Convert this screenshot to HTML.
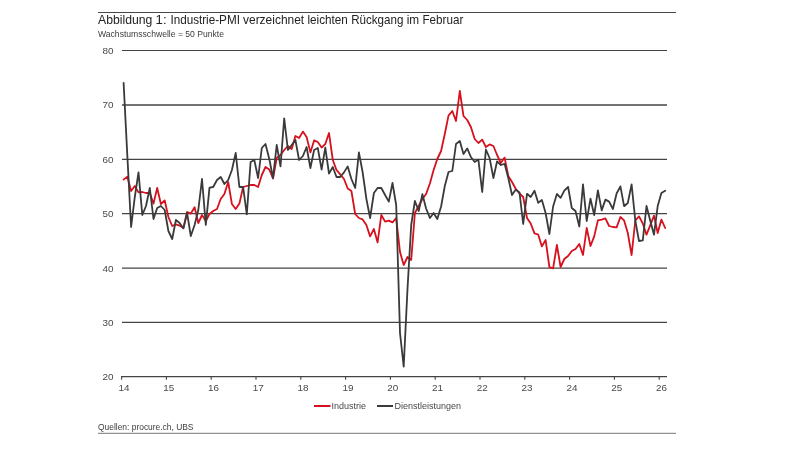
<!DOCTYPE html>
<html><head><meta charset="utf-8"><style>
html,body{margin:0;padding:0;background:#fff;}
body{width:800px;height:450px;overflow:hidden;position:relative;font-family:"Liberation Sans",sans-serif;}
svg{position:absolute;left:0;top:0;}
text{font-family:"Liberation Sans",sans-serif;filter:grayscale(1);}
</style></head><body>
<svg width="800" height="450" viewBox="0 0 800 450">
<line x1="98" x2="676" y1="12.5" y2="12.5" stroke="#484848" stroke-width="1"/>
<line x1="98" x2="676" y1="433.3" y2="433.3" stroke="#777" stroke-width="1"/>
<g font-size="12.2" fill="#222"><text x="98.0" y="24" textLength="54.3" lengthAdjust="spacingAndGlyphs">Abbildung</text><text x="155.6" y="24" textLength="11.0" lengthAdjust="spacingAndGlyphs">1:</text><text x="170.4" y="24" textLength="69.5" lengthAdjust="spacingAndGlyphs">Industrie-PMI</text><text x="243.0" y="24" textLength="61.2" lengthAdjust="spacingAndGlyphs">verzeichnet</text><text x="307.5" y="24" textLength="40.4" lengthAdjust="spacingAndGlyphs">leichten</text><text x="351.2" y="24" textLength="52.2" lengthAdjust="spacingAndGlyphs">Rückgang</text><text x="406.7" y="24" textLength="12.5" lengthAdjust="spacingAndGlyphs">im</text><text x="422.5" y="24" textLength="40.8" lengthAdjust="spacingAndGlyphs">Februar</text></g>
<text x="98" y="36.5" font-size="8.6" fill="#3c3c3c" textLength="126" lengthAdjust="spacingAndGlyphs">Wachstumsschwelle = 50 Punkte</text>
<g stroke="#444" stroke-width="1"><line x1="122" x2="667" y1="50.50" y2="50.50" stroke-width="1"/><line x1="122" x2="667" y1="105.00" y2="105.00" stroke-width="1.5"/><line x1="122" x2="667" y1="159.40" y2="159.40" stroke-width="1.15"/><line x1="122" x2="667" y1="213.60" y2="213.60" stroke-width="1.1"/><line x1="122" x2="667" y1="268.15" y2="268.15" stroke-width="1.4"/><line x1="122" x2="667" y1="322.40" y2="322.40" stroke-width="1.1"/></g>
<g stroke="#444" stroke-width="1.1"><line x1="121" x2="667" y1="376.6" y2="376.6"/><line x1="121.6" x2="121.6" y1="376.6" y2="379.7"/><line x1="166.4" x2="166.4" y1="376.6" y2="379.7"/><line x1="211.2" x2="211.2" y1="376.6" y2="379.7"/><line x1="256.0" x2="256.0" y1="376.6" y2="379.7"/><line x1="300.8" x2="300.8" y1="376.6" y2="379.7"/><line x1="345.6" x2="345.6" y1="376.6" y2="379.7"/><line x1="390.4" x2="390.4" y1="376.6" y2="379.7"/><line x1="435.2" x2="435.2" y1="376.6" y2="379.7"/><line x1="480.0" x2="480.0" y1="376.6" y2="379.7"/><line x1="524.8" x2="524.8" y1="376.6" y2="379.7"/><line x1="569.6" x2="569.6" y1="376.6" y2="379.7"/><line x1="614.4" x2="614.4" y1="376.6" y2="379.7"/><line x1="659.2" x2="659.2" y1="376.6" y2="379.7"/></g>
<g font-size="9.9" fill="#484848"><text x="113.4" y="53.9" text-anchor="end">80</text><text x="113.4" y="108.4" text-anchor="end">70</text><text x="113.4" y="162.8" text-anchor="end">60</text><text x="113.4" y="217.0" text-anchor="end">50</text><text x="113.4" y="271.5" text-anchor="end">40</text><text x="113.4" y="325.8" text-anchor="end">30</text><text x="113.4" y="380.0" text-anchor="end">20</text><text x="123.9" y="391.3" text-anchor="middle">14</text><text x="168.7" y="391.3" text-anchor="middle">15</text><text x="213.5" y="391.3" text-anchor="middle">16</text><text x="258.3" y="391.3" text-anchor="middle">17</text><text x="303.1" y="391.3" text-anchor="middle">18</text><text x="347.9" y="391.3" text-anchor="middle">19</text><text x="392.7" y="391.3" text-anchor="middle">20</text><text x="437.5" y="391.3" text-anchor="middle">21</text><text x="482.3" y="391.3" text-anchor="middle">22</text><text x="527.1" y="391.3" text-anchor="middle">23</text><text x="571.9" y="391.3" text-anchor="middle">24</text><text x="616.7" y="391.3" text-anchor="middle">25</text><text x="661.5" y="391.3" text-anchor="middle">26</text></g>
<path d="M123.6 179.6 L127.3 176.6 L131.1 191.0 L134.8 186.0 L138.5 192.4 L142.3 192.0 L146.0 193.0 L149.8 193.0 L153.5 203.6 L157.2 188.0 L160.9 204.0 L164.7 200.4 L168.4 217.0 L172.2 226.0 L175.9 224.4 L179.6 225.6 L183.4 228.0 L187.1 212.0 L190.8 213.6 L194.6 207.2 L198.3 223.0 L202.0 215.0 L205.8 221.0 L209.5 214.0 L213.2 211.0 L217.0 209.0 L220.7 199.0 L224.4 194.0 L228.2 182.0 L231.9 204.0 L235.7 209.0 L239.4 203.6 L243.1 187.0 L246.8 186.0 L250.6 185.0 L254.3 185.0 L258.1 187.0 L261.8 175.0 L265.5 167.0 L269.3 169.5 L273.0 178.5 L276.7 158.0 L280.5 155.0 L284.2 150.0 L287.9 146.0 L291.7 149.0 L295.4 136.0 L299.1 138.0 L302.9 131.6 L306.6 137.0 L310.4 152.4 L314.1 140.4 L317.8 142.0 L321.6 147.6 L325.3 144.0 L329.0 133.0 L332.8 160.0 L336.5 170.0 L340.2 174.4 L344.0 179.0 L347.7 188.5 L351.4 191.0 L355.2 214.0 L358.9 218.0 L362.6 219.4 L366.4 225.0 L370.1 236.4 L373.9 229.0 L377.6 242.4 L381.3 215.0 L385.1 221.6 L388.8 220.6 L392.5 222.4 L396.2 218.0 L400.0 252.0 L403.7 265.0 L407.5 257.0 L411.2 260.0 L414.9 213.0 L418.7 206.0 L422.4 199.0 L426.1 194.0 L429.9 183.5 L433.6 170.0 L437.3 159.0 L441.1 151.0 L444.8 134.0 L448.5 115.6 L452.3 111.0 L456.0 121.0 L459.8 91.0 L463.5 116.0 L467.2 120.0 L470.9 127.0 L474.7 139.0 L478.4 143.0 L482.2 139.6 L485.9 147.0 L489.6 144.4 L493.4 146.0 L497.1 155.0 L500.8 163.0 L504.6 157.6 L508.3 176.0 L512.0 182.0 L515.8 189.0 L519.5 193.5 L523.2 197.0 L527.0 218.0 L530.7 223.5 L534.5 233.3 L538.2 234.5 L541.9 246.4 L545.6 240.0 L549.4 267.0 L553.1 268.4 L556.9 245.0 L560.6 267.0 L564.3 259.0 L568.1 256.0 L571.8 251.0 L575.5 249.0 L579.3 244.0 L583.0 255.0 L586.7 228.0 L590.5 246.0 L594.2 236.4 L597.9 220.4 L601.7 219.6 L605.4 218.4 L609.1 226.0 L612.9 227.0 L616.6 227.4 L620.4 217.0 L624.1 220.4 L627.8 233.0 L631.6 255.0 L635.3 220.5 L639.0 216.4 L642.8 223.5 L646.5 234.7 L650.2 225.3 L654.0 215.6 L657.7 233.0 L661.4 219.6 L665.2 228.0" fill="none" stroke="#d6101c" stroke-width="1.8" stroke-linejoin="round" stroke-linecap="round"/>
<path d="M123.6 82.8 L127.3 155.0 L131.1 227.0 L134.8 197.0 L138.5 172.4 L142.3 215.0 L146.0 206.0 L149.8 188.0 L153.5 219.0 L157.2 208.0 L160.9 206.0 L164.7 210.0 L168.4 231.0 L172.2 239.0 L175.9 220.0 L179.6 223.0 L183.4 228.4 L187.1 213.0 L190.8 236.0 L194.6 225.0 L198.3 210.0 L202.0 179.0 L205.8 225.0 L209.5 187.6 L213.2 187.0 L217.0 180.0 L220.7 177.0 L224.4 184.0 L228.2 180.0 L231.9 170.0 L235.7 153.0 L239.4 187.0 L243.1 187.0 L246.8 214.4 L250.6 162.0 L254.3 160.0 L258.1 178.0 L261.8 148.0 L265.5 144.0 L269.3 159.0 L273.0 178.0 L276.7 145.0 L280.5 166.4 L284.2 118.4 L287.9 150.0 L291.7 145.0 L295.4 140.0 L299.1 160.0 L302.9 156.0 L306.6 147.0 L310.4 168.0 L314.1 150.0 L317.8 148.0 L321.6 169.6 L325.3 147.6 L329.0 173.6 L332.8 167.0 L336.5 177.0 L340.2 177.0 L344.0 172.4 L347.7 166.4 L351.4 179.0 L355.2 188.0 L358.9 152.4 L362.6 172.0 L366.4 199.0 L370.1 218.0 L373.9 193.0 L377.6 188.0 L381.3 188.0 L385.1 195.0 L388.8 201.6 L392.5 183.0 L396.2 205.0 L400.0 333.0 L403.7 366.6 L407.5 289.0 L411.2 225.0 L414.9 201.0 L418.7 211.0 L422.4 194.2 L426.1 208.5 L429.9 218.0 L433.6 213.0 L437.3 219.0 L441.1 206.5 L444.8 186.0 L448.5 172.0 L452.3 171.0 L456.0 144.0 L459.8 141.0 L463.5 154.0 L467.2 148.4 L470.9 157.0 L474.7 162.0 L478.4 159.6 L482.2 192.0 L485.9 149.5 L489.6 158.0 L493.4 178.0 L497.1 161.3 L500.8 165.0 L504.6 163.8 L508.3 178.0 L512.0 195.0 L515.8 189.6 L519.5 192.5 L523.2 224.0 L527.0 193.8 L530.7 197.0 L534.5 190.8 L538.2 202.8 L541.9 200.0 L545.6 213.0 L549.4 234.0 L553.1 206.5 L556.9 194.0 L560.6 197.8 L564.3 190.7 L568.1 187.0 L571.8 208.0 L575.5 211.0 L579.3 226.5 L583.0 184.4 L586.7 221.0 L590.5 198.7 L594.2 215.0 L597.9 190.5 L601.7 210.4 L605.4 199.6 L609.1 201.6 L612.9 209.0 L616.6 193.5 L620.4 186.4 L624.1 206.2 L627.8 203.0 L631.6 184.4 L635.3 220.5 L639.0 241.0 L642.8 240.4 L646.5 206.0 L650.2 220.5 L654.0 234.7 L657.7 206.0 L661.4 193.0 L665.2 190.7" fill="none" stroke="#3a3a3a" stroke-width="1.8" stroke-linejoin="round" stroke-linecap="round"/>
<line x1="314" x2="330.5" y1="406" y2="406" stroke="#d4111e" stroke-width="2"/>
<text x="331.5" y="409.4" font-size="9.8" fill="#484848" textLength="34.5" lengthAdjust="spacingAndGlyphs">Industrie</text>
<line x1="377" x2="393" y1="406" y2="406" stroke="#3a3a3a" stroke-width="2"/>
<text x="394.5" y="409.4" font-size="9.8" fill="#484848" textLength="66.5" lengthAdjust="spacingAndGlyphs">Dienstleistungen</text>
<text x="98" y="430.3" font-size="8.6" fill="#3c3c3c" textLength="95.5" lengthAdjust="spacingAndGlyphs">Quellen: procure.ch, UBS</text>
</svg>
</body></html>
